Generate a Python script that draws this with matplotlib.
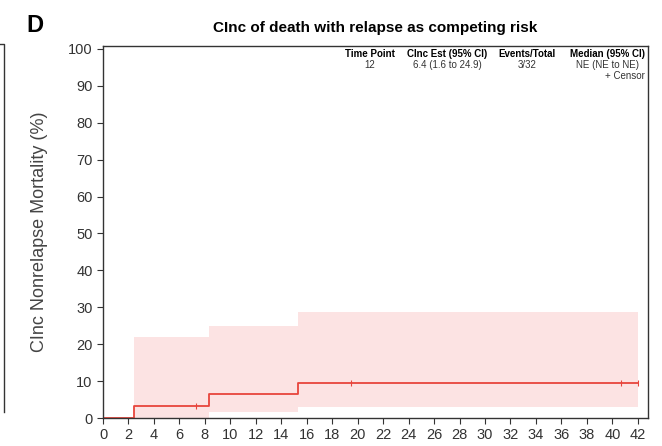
import numpy as np
import matplotlib.pyplot as plt
from matplotlib.lines import Line2D

plt.rcParams['font.family'] = ['Liberation Sans', 'DejaVu Sans']

# cumulative incidence step function (months, %)
step_times = [0, 2.4, 8.3, 15.3, 42.0]
cinc = [0, 3.2, 6.4, 9.6, 9.6]
ci_lower = [0, 0, 1.6, 3.0, 3.0]
ci_upper = [0, 22.0, 24.9, 28.7, 28.7]
censor_times = [7.3, 19.5, 40.7, 42.0]
censor_vals = [3.2, 9.6, 9.6, 9.6]

table_headers = ['Time Point', 'CInc Est (95% CI)', 'Events/Total', 'Median (95% CI)']
table_row = ['12', '6.4 (1.6 to 24.9)', '3/32', 'NE (NE to NE)']

line_col = '#e8453c'
band_col = '#fce3e3'

fig = plt.figure(figsize=(6.62, 4.46), dpi=100)
ax = fig.add_axes([103 / 662, 28 / 446, 545 / 662, 372 / 446])

# confidence band, only where there is an event
ax.fill_between(step_times[1:], ci_lower[1:], ci_upper[1:], step='post',
                color=band_col, linewidth=0)
ax.step(step_times, cinc, where='post', color=line_col, lw=1.3)
ax.plot(censor_times, censor_vals, linestyle='none', marker='|',
        color=line_col, markersize=4, markeredgewidth=0.8)

ax.set_xlim(0, 42.8)
ax.set_ylim(0, 100.8)
ax.set_xticks(np.arange(0, 43, 2))
ax.set_yticks(np.arange(0, 101, 10))
ax.tick_params(labelsize=10.5, colors='#333333', length=4, width=0.8)
for s in ax.spines.values():
    s.set_linewidth(1.0)
    s.set_color('#333333')

ax.set_ylabel('CInc Nonrelapse Mortality (%)', fontsize=13, color='#444444')
ax.yaxis.set_label_coords(-0.10, 0.5)

fig.text(375 / 662, 1 - 28 / 446, 'CInc of death with relapse as competing risk',
         ha='center', va='center', fontsize=11, fontweight='bold')
fig.text(35 / 662, 1 - 25 / 446, 'D', ha='center', va='center',
         fontsize=17, fontweight='bold')

# summary table in the top right
col_x = [370, 447, 527, 607]
for x, head, val in zip(col_x, table_headers, table_row):
    fig.text(x / 662, 1 - 54 / 446, head, ha='center', va='center',
             fontsize=7, fontweight='bold')
    fig.text(x / 662, 1 - 65 / 446, val, ha='center', va='center',
             fontsize=7, color='#333333')
fig.text(645 / 662, 1 - 76 / 446, '+ Censor', ha='right', va='center',
         fontsize=7, color='#333333')

# edge of the neighbouring panel
fig.add_artist(Line2D([0, 4 / 662, 4 / 662], [1 - 44 / 446, 1 - 44 / 446, 1 - 412 / 446],
                      color='#333333', lw=1.0))

fig.savefig('out.png', dpi=100)
